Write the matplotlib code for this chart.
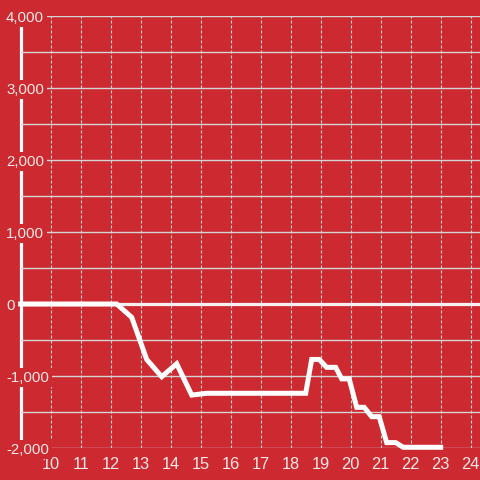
import matplotlib
matplotlib.use('Agg')
import matplotlib.pyplot as plt

plt.rcParams['font.family'] = ['Liberation Sans', 'DejaVu Sans']

# line values
hours = [9.0, 12.2, 12.7, 13.2, 13.7, 14.2, 14.7, 15.2, 18.5, 18.7, 18.95,
         19.2, 19.5, 19.7, 19.95, 20.2, 20.45, 20.7, 20.95, 21.2, 21.5,
         21.75, 23.0]
values = [0, 0, -185, -770, -1010, -830, -1265, -1240, -1240, -770, -770,
          -880, -880, -1040, -1040, -1435, -1435, -1565, -1565, -1925, -1925,
          -1990, -1990]

xticks = list(range(10, 25))
ygrid = list(range(-2000, 4001, 500))

bg = '#cc2a30'
txt = '#f6e8e8'
grid = '#d4d4d4'

fig = plt.figure(figsize=(4.8, 4.8), dpi=100, facecolor=bg)
ax = fig.add_axes([20.7/480, 32/480, 1 - 20.7/480, 432/480])
ax.set_facecolor(bg)

ax.set_xlim(9, 24.31)
ax.set_ylim(-2000, 4000)

for s in ['top', 'right', 'bottom']:
    ax.spines[s].set_visible(False)
ax.spines['left'].set_color('white')
ax.spines['left'].set_linewidth(2.3)
ax.spines['left'].set_zorder(1.0)

ax.set_xticks(xticks)
ax.set_yticks(ygrid)
ax.set_yticklabels(['{:,}'.format(v) if v % 1000 == 0 else '' for v in ygrid],
                   fontsize=10.8, color=txt)
ax.set_xticklabels([str(v) for v in xticks], fontsize=11.8, color=txt)

ax.tick_params(axis='x', length=0, pad=6.5)
ax.tick_params(axis='y', length=0, pad=10.5)
for lab in ax.get_yticklabels():
    lab.set_horizontalalignment('left')
    lab.set_bbox(dict(facecolor=bg, edgecolor='none', pad=1.8))

ax.yaxis.grid(True, color=grid, linewidth=1.0)
ax.xaxis.grid(True, color=grid, linewidth=0.8, linestyle=(0, (2.7, 1.8)))

ax.axhline(0, color='#f6f0f0', linewidth=2.3, zorder=2)
ax.plot(hours, values, color='white', linewidth=3.6, zorder=3,
        solid_joinstyle='miter', clip_on=False)

fig.savefig('out.png', dpi=100, facecolor=bg)
